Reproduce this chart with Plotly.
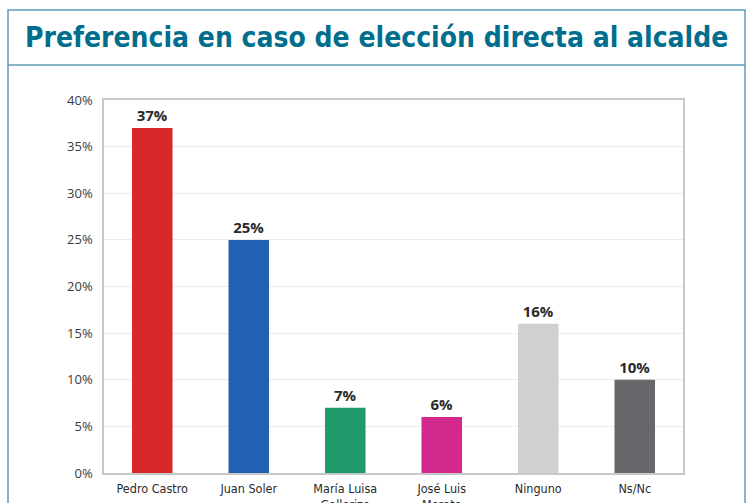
import plotly.graph_objects as go

categories = ["Pedro Castro", "Juan Soler", "María Luisa<br>Gallerizo", "José Luis<br>Morate", "Ninguno", "Ns/Nc"]
values = [37, 25, 7, 6, 16, 10]
value_labels = ["37%", "25%", "7%", "6%", "16%", "10%"]
colors = ["#d9282a", "#2061b1", "#1f9b6b", "#d4298c", "#d0d0d2", "#68686c"]
tick_vals = [0, 5, 10, 15, 20, 25, 30, 35, 40]
tick_text = ["0%", "5%", "10%", "15%", "20%", "25%", "30%", "35%", "40%"]

L, R, T, B = 104, 65, 100, 30
W = 748 - L - R
H = 503 - T - B

def px(x):
    return (x - L) / W

def py(y):
    return (503 - B - y) / H

fig = go.Figure()
fig.add_trace(go.Bar(
    x=categories, y=values, marker=dict(color=colors, line=dict(width=0)),
    text=value_labels, textposition="outside", cliponaxis=False,
    textfont=dict(family="Open Sans", size=15, color="#2a2a2a", weight="bold"),
))

frame = "#5e9fb8"
fig.update_layout(
    width=748, height=503,
    margin=dict(l=L, r=R, t=T, b=B, autoexpand=False),
    paper_bgcolor="white", plot_bgcolor="white",
    bargap=0.58, showlegend=False,
    xaxis=dict(showline=True, linecolor="#c8c8c8", mirror=True, linewidth=1.5,
               tickfont=dict(family="DejaVu Sans Condensed", size=12.5, color="#2a2a2a"),
               ticks="", automargin=False, fixedrange=True, ticklabelstandoff=3),
    yaxis=dict(range=[0, 40], tickvals=tick_vals, ticktext=tick_text,
               showline=True, linecolor="#c8c8c8", mirror=True, linewidth=1.5,
               gridcolor="#ececec", zeroline=False, automargin=False, fixedrange=True,
               tickfont=dict(family="Open Sans", size=13, color="#3a3a3a"),
               ticks="", ticklabelstandoff=7),
    shapes=[
        dict(type="rect", xref="paper", yref="paper", x0=px(8), x1=px(745), y0=py(530), y1=py(10),
             line=dict(color=frame, width=1.5), fillcolor="rgba(0,0,0,0)", layer="below"),
        dict(type="line", xref="paper", yref="paper", x0=px(8), x1=px(745), y0=py(65), y1=py(65),
             line=dict(color=frame, width=1.5)),
    ],
    annotations=[dict(
        text="<b>Preferencia en caso de elección directa al alcalde</b>",
        xref="paper", yref="paper", x=px(376), y=py(38), xanchor="center", yanchor="middle",
        showarrow=False, font=dict(family="DejaVu Sans Condensed", size=28, color="#006e8c"),
    )],
)
fig.write_html("out.html", config={"displayModeBar": False},
               post_script="document.body.style.margin='0';")
